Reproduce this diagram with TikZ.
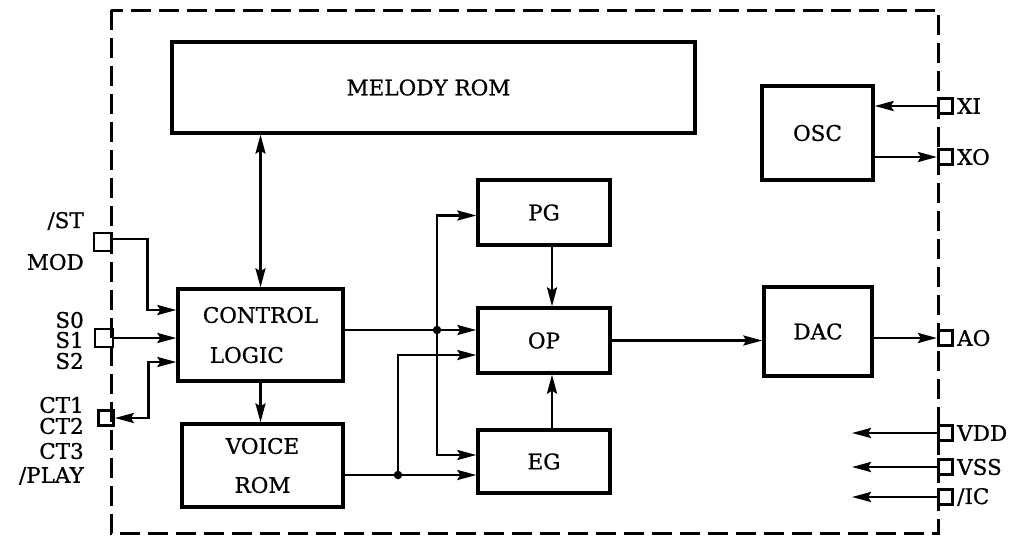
\documentclass[tikz,border=0pt]{standalone}
\usepackage{fontspec}
\setmainfont{DejaVu Serif}[FakeBold=0.8]
\usetikzlibrary{arrows.meta,calc}
\newcommand{\fsz}{\fontsize{21.5}{24}\selectfont}
\begin{document}
\begin{tikzpicture}[x=1pt,y=-1pt,
  blk/.style={draw,line width=3.3pt,inner sep=0pt,align=center,font=\fsz},
  pin/.style={draw,line width=2.6pt,minimum size=#1,inner sep=0pt},
  lbl/.style={font=\fsz,inner sep=0pt},
  wire/.style={line width=2.8pt},
  tip/.tip={Stealth[length=19pt,width=10pt,inset=3pt]},
  arr/.style={wire,-tip},
  barr/.style={wire,tip-tip},
  border/.style={line width=3pt,dash pattern=on 20pt off 8pt},
  dot/.style={circle,fill,inner sep=0pt,minimum size=8.5pt}]
\useasboundingbox (0,0) rectangle (1025,539);
\draw[border] (111,10) rectangle (938,533);

% blocks
\node[blk,minimum width=523pt,minimum height=91pt] (mel) at (433.5,87.5) {\hspace*{-10pt}MELODY ROM};
\node[blk,minimum width=111pt,minimum height=94pt] (osc) at (817.5,133) {OSC};
\node[blk,minimum width=132pt,minimum height=65pt] (pg) at (544,212.5) {PG};
\node[blk,minimum width=132pt,minimum height=65pt] (op) at (544,340.5) {OP};
\node[blk,minimum width=132pt,minimum height=63pt] (eg) at (544,461.5) {EG};
\node[blk,minimum width=108pt,minimum height=89pt] (dac) at (818,331.5) {DAC};
\node[blk,minimum width=165pt,minimum height=92pt,align=left] (ctl) at (260.5,335) {CONTROL\\[16pt]\hspace*{7pt}LOGIC};
\node[blk,minimum width=161pt,minimum height=83pt] (voice) at (262.5,465.5) {VOICE\\[15pt]ROM};

% left pins
\node[pin=18pt] (pST) at (103,242) {};
\node[pin=18pt] (pS) at (104,338) {};
\node[pin=15pt] (pCT) at (106,418) {};
\node[lbl,anchor=east] (lST) at (84,221) {/ST};
\node[lbl,anchor=east] (lMOD) at (84,262) {MOD};
\node[lbl,anchor=east] (lS0) at (84,320) {S0};
\node[lbl,anchor=east] (lS1) at (84,340) {S1};
\node[lbl,anchor=east] (lS2) at (84,361) {S2};
\node[lbl,anchor=east] (lCT1) at (84,405) {CT1};
\node[lbl,anchor=east] (lCT2) at (84,426) {CT2};
\node[lbl,anchor=east] (lCT3) at (84,451) {CT3};
\node[lbl,anchor=east] (lPLAY) at (84,476) {/PLAY};

% right pins
\foreach \n/\y/\t in {XI/106/XI,XO/157/XO,AO/338/AO,VDD/433/VDD,VSS/467/VSS,IC/497/{/IC}}{
  \node[pin=14.5pt] (p\n) at (945.5,\y) {};
  \node[lbl,anchor=west] (l\n) at (957,\y) {\t};
}

% left connections
\draw[arr] ($(pST.east)+(0,-3)$) -- ++(34,0) |- ($(ctl.west)+(0,-25)$);
\draw[arr] (pS.east) -- (pS.east -| ctl.west);
\draw[barr] (pCT.east) -- ++(34,0) |- ($(ctl.west)+(0,27)$);

% control
\draw[barr] (ctl.north) -- (ctl.north |- mel.south);
\draw[arr] (ctl.south) -- (ctl.south |- voice.north);

\coordinate (a1) at ($(op.west)+(0,-10.5)$);
\coordinate (j1) at (437,330);
\draw[arr] (ctl.east |- a1) -- (a1);
\draw[arr] (j1) |- ($(pg.west)+(0,3)$);
\draw[arr] (j1) |- ($(eg.west)+(0,-6.5)$);
\node[dot] (d1) at (j1) {};

\coordinate (a2) at ($(eg.west)+(0,13.5)$);
\coordinate (j2) at (398,475);
\draw[arr] (voice.east |- a2) -- (a2);
\draw[arr] (j2) |- ($(op.west)+(0,14.5)$);
\node[dot] (d2) at (j2) {};

\draw[arr] ($(pg.south)+(8,0)$) -- ($(op.north)+(8,0)$);
\draw[arr] ($(eg.north)+(8,0)$) -- ($(op.south)+(8,0)$);
\draw[arr] (op.east) -- (op.east -| dac.west);
\draw[arr] (dac.east |- pAO) -- (pAO.west);

% osc
\draw[arr] (pXI.west) -- (pXI -| osc.east);
\draw[arr] (pXO -| osc.east) -- (pXO.west);

% power
\coordinate (eVDD) at (852,433);
\coordinate (eVSS) at (852,467);
\coordinate (eIC) at (852,497);
\draw[arr] (pVDD.west) -- (eVDD);
\draw[arr] (pVSS.west) -- (eVSS);
\draw[arr] (pIC.west) -- (eIC);
\end{tikzpicture}
\end{document}
